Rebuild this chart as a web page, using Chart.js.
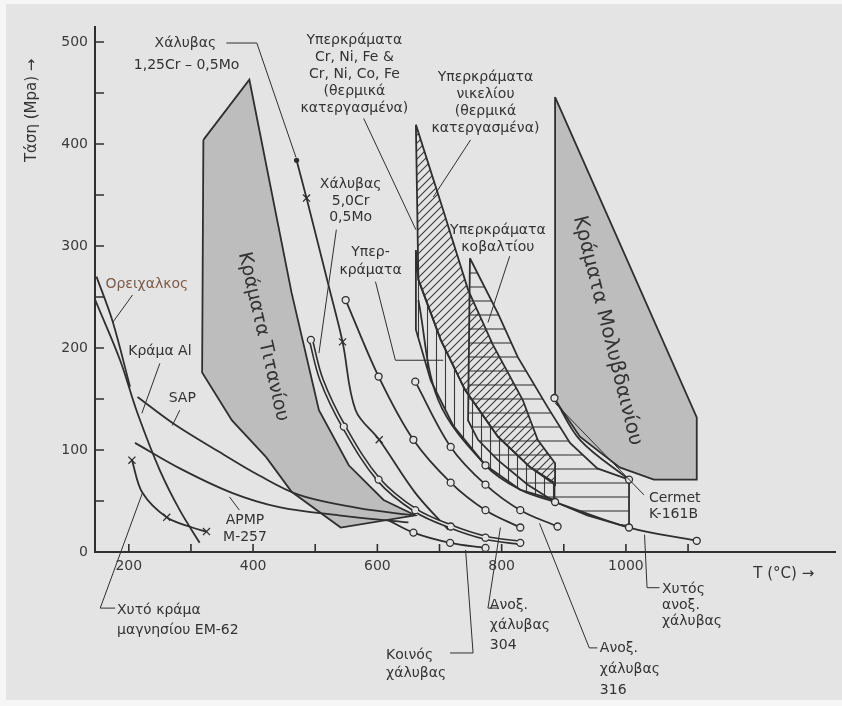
<!DOCTYPE html>
<html>
<head>
<meta charset="utf-8">
<script src="https://cdn.jsdelivr.net/npm/chart.js@4.4.1/dist/chart.umd.min.js"></script>
<style>
    html, body { margin: 0; padding: 0; background: #f6f6f6; }
    #wrap { width: 842px; height: 706px; }
</style>
</head>
<body>
<div id="wrap"><canvas id="c" width="842" height="706"></canvas></div>
<script>
// axes
const xTicks = [200, 300, 400, 500, 600, 700, 800, 900, 1000, 1100];
const xLabels = [200, 400, 600, 800, 1000];
const yTicks = [0, 50, 100, 150, 200, 250, 300, 350, 400, 450, 500];
const yLabels = [0, 100, 200, 300, 400, 500];

// T (°C) / τάση (MPa)
const brassT = [148, 174, 202];
const brassS = [270, 226, 162];
const alT = [146, 186, 214, 250, 282, 314];
const alS = [247, 188, 136, 80, 41, 9];
const sapT = [214, 274, 346, 410, 474, 570, 658];
const sapS = [152, 125, 98, 75, 56, 43, 36];
const apmpT = [210, 282, 366, 442, 538, 650];
const apmpS = [107, 82, 58, 44, 36, 29];
const mgT = [205, 222, 261, 302, 325];
const mgS = [90, 58, 34, 24, 20];
const mgMark = ['x', '', 'x', '', 'x'];

const cr125T = [470, 486, 522, 544, 565, 603, 661, 714];
const cr125S = [384, 347, 260, 206, 139, 110, 58, 22];
const cr125Mark = ['.', 'x', '', 'x', '', 'x', '', ''];
const cr5T = [493, 510, 546, 602, 661, 718, 774, 830];
const cr5S = [208, 169, 123, 71, 41, 25, 14, 9];
const cr5Mark = ['o', '', 'o', 'o', 'o', 'o', 'o', 'o'];
const commonT = [618, 658, 717, 774];
const commonS = [31, 19, 9, 4];
const commonMark = ['', 'o', 'o', 'o'];
const ss304T = [549, 602, 658, 718, 774, 830];
const ss304S = [247, 172, 110, 68, 41, 24];
const ss316T = [661, 718, 774, 830, 890];
const ss316S = [167, 103, 66, 41, 25];
const castT = [666, 698, 774, 830, 886, 1005, 1114];
const castS = [247, 149, 85, 61, 49, 24, 11];
const castMark = ['', '', 'o', '', 'o', 'o', 'o'];
const cermetT = [885, 926, 1005];
const cermetS = [151, 110, 71];
const cermetMark = ['o', '', 'o'];

// regions
const titanT = [320, 394, 462, 506, 554, 610, 661, 541, 462, 421, 366, 318];
const titanS = [404, 463, 254, 139, 85, 51, 36, 24, 59, 93, 129, 176];
const molyT = [886, 886, 926, 990, 1045, 1114, 1114];
const molyS = [446, 149, 113, 83, 71, 71, 132];
const nickelT = [662, 706, 746, 786, 834, 858, 886, 886, 846, 794, 741, 702, 666];
const nickelS = [419, 335, 257, 203, 149, 110, 87, 66, 83, 113, 159, 208, 267];
const crnifeT = [662, 666, 702, 741, 794, 846, 885, 885, 830, 774, 722, 686, 662];
const crnifeS = [296, 267, 208, 159, 113, 83, 68, 51, 61, 85, 124, 168, 218];
const cobaltT = [749, 794, 826, 874, 910, 954, 1005, 1005, 938, 886, 842, 794, 762, 746];
const cobaltS = [288, 234, 191, 142, 107, 82, 71, 24, 36, 49, 66, 90, 110, 129];

const ink = "#2f2f2f";
const paper = "#e4e4e4";
const font = "'DejaVu Sans', sans-serif";

// texts in data units
const notes = [
    { lines: ["Χάλυβας"], x: 291, y: 499 },
    { lines: ["1,25Cr – 0,5Mo"], x: 293, y: 477 },
    { lines: ["Υπερκράματα", "Cr, Ni, Fe &", "Cr, Ni, Co, Fe", "(θερμικά", "κατεργασμένα)"], x: 563, y: 502, lh: 17 },
    { lines: ["Υπερκράματα", "νικελίου", "(θερμικά", "κατεργασμένα)"], x: 774, y: 465, lh: 17 },
    { lines: ["Χάλυβας", "5,0Cr", "0,5Mo"], x: 557, y: 360, lh: 16.5 },
    { lines: ["Υπερ-", "κράματα"], x: 589, y: 294, lh: 18 },
    { lines: ["Υπερκράματα", "κοβαλτίου"], x: 794, y: 315, lh: 17 },
    { lines: ["Ορειχαλκος"], x: 229, y: 262, color: "#7d5a48" },
    { lines: ["Κράμα Al"], x: 250, y: 197 },
    { lines: ["SAP"], x: 286, y: 151 },
    { lines: ["APMP", "M-257"], x: 387, y: 31, lh: 17 },
    { lines: ["Χυτό κράμα", "μαγνησίου ΕΜ-62"], x: 181, y: -57, lh: 20, align: "left" },
    { lines: ["Κοινός", "χάλυβας"], x: 614, y: -101, lh: 18, align: "left" },
    { lines: ["Ανοξ.", "χάλυβας", "304"], x: 781, y: -52, lh: 20, align: "left" },
    { lines: ["Ανοξ.", "χάλυβας", "316"], x: 958, y: -94, lh: 21, align: "left" },
    { lines: ["Χυτός", "ανοξ.", "χάλυβας"], x: 1058, y: -37, lh: 16, align: "left" },
    { lines: ["Cermet", "K-161B"], x: 1037, y: 53, lh: 16, align: "left" },
    { lines: ["T (°C) →"], x: 1205, y: -22, align: "left", size: 15 },
    { lines: ["Τάση (Mpa) →"], x: 45, y: 433, rot: -90, size: 15 },
    { lines: ["Κράματα Τιτανίου"], x: 416, y: 211, rot: 77, size: 19 },
    { lines: ["Κράματα Μολυβδαινίου"], x: 970, y: 217, rot: 76, size: 20 },
];

const leaders = [
    [[357, 499], [406, 499], [469, 387]],
    [[578, 425], [662, 316]],
    [[750, 404], [690, 348]],
    [[534, 316], [506, 195]],
    [[597, 265], [629, 188], [706, 188]],
    [[813, 290], [778, 225]],
    [[206, 252], [174, 225]],
    [[250, 185], [221, 136]],
    [[282, 139], [270, 124]],
    [[378, 41], [362, 54]],
    [[178, -55], [154, -55], [222, 58]],
    [[717, -99], [754, -99], [742, 2]],
    [[798, 24], [778, -55], [794, -55]],
    [[861, 28], [941, -94], [954, -94]],
    [[1030, 17], [1034, -35], [1054, -35]],
    [[886, 146], [1029, 56]],
];

function pts(T, S) {
    return T.map((t, i) => ({ x: t, y: S[i] }));
}

function curve(T, S, marks, extra) {
    marks = marks || [];
    return Object.assign({
        data: pts(T, S),
        borderColor: ink,
        borderWidth: 1.8,
        fill: false,
        tension: 0.35,
        pointStyle: T.map((t, i) => (marks[i] === "x" ? "crossRot" : "circle")),
        pointRadius: T.map((t, i) => (marks[i] === "o" ? 3.5 : marks[i] === "x" ? 5 : marks[i] === "." ? 2 : 0)),
        pointBackgroundColor: T.map((t, i) => (marks[i] === "." ? ink : paper)),
        pointBorderColor: ink,
        pointBorderWidth: 1.3,
        order: 1,
    }, extra || {});
}

function region(T, S, bg, order) {
    return {
        data: pts(T, S).concat([{ x: T[0], y: S[0] }]),
        borderColor: ink,
        borderWidth: 1.8,
        backgroundColor: bg,
        fill: "shape",
        tension: 0,
        pointRadius: 0,
        order: order,
    };
}

function hatch(kind) {
    const n = kind === "h" ? 14 : kind === "v" ? 9 : 8;
    const c = document.createElement("canvas");
    c.width = n;
    c.height = n;
    const g = c.getContext("2d");
    g.strokeStyle = "#3a3a3a";
    g.lineWidth = 1.1;
    g.beginPath();
    if (kind === "h") {
        g.moveTo(0, n / 2); g.lineTo(n, n / 2);
    } else if (kind === "v") {
        g.moveTo(n / 2, 0); g.lineTo(n / 2, n);
    } else {
        g.moveTo(0, n); g.lineTo(n, 0);
        g.moveTo(-2, 2); g.lineTo(2, -2);
        g.moveTo(n - 2, n + 2); g.lineTo(n + 2, n - 2);
    }
    g.stroke();
    return g.createPattern(c, "repeat");
}

const extras = {
    id: "extras",
    beforeDraw(chart) {
        const ctx = chart.ctx;
        ctx.save();
        ctx.fillStyle = paper;
        ctx.fillRect(6, 4, 836, 696);
        ctx.restore();
    },
    afterDraw(chart) {
        const { ctx, scales } = chart;
        const px = (v) => scales.x.getPixelForValue(v);
        const py = (v) => scales.y.getPixelForValue(v);
        ctx.save();
        // inward tick marks
        ctx.strokeStyle = ink;
        ctx.lineWidth = 1.6;
        ctx.beginPath();
        yTicks.forEach((v) => {
            if (v === 0) return;
            ctx.moveTo(scales.x.left, py(v));
            ctx.lineTo(scales.x.left + 9, py(v));
        });
        xTicks.forEach((v) => {
            ctx.moveTo(px(v), scales.y.bottom);
            ctx.lineTo(px(v), scales.y.bottom - 8);
        });
        ctx.stroke();
        // leader lines
        ctx.lineWidth = 1;
        leaders.forEach((l) => {
            ctx.beginPath();
            l.forEach((p, i) => (i ? ctx.lineTo(px(p[0]), py(p[1])) : ctx.moveTo(px(p[0]), py(p[1]))));
            ctx.stroke();
        });
        // texts
        notes.forEach((n) => {
            ctx.save();
            ctx.translate(px(n.x), py(n.y));
            if (n.rot) ctx.rotate((n.rot * Math.PI) / 180);
            ctx.font = (n.size || 14) + "px " + font;
            ctx.fillStyle = n.color || "#333";
            ctx.textAlign = n.align || "center";
            ctx.textBaseline = "middle";
            n.lines.forEach((s, i) => ctx.fillText(s, 0, i * (n.lh || 0)));
            ctx.restore();
        });
        ctx.restore();
    },
};

new Chart(document.getElementById("c"), {
    type: "line",
    data: {
        datasets: [
            curve(brassT, brassS),
            curve(alT, alS),
            curve(sapT, sapS),
            curve(apmpT, apmpS),
            curve(mgT, mgS, mgMark),
            curve(cr125T, cr125S, cr125Mark),
            curve(cr5T, cr5S, [], { borderWidth: 1.6, borderColor: paper, order: 0 }),
            curve(cr5T, cr5S, cr5Mark, { borderWidth: 4.8 }),
            curve(commonT, commonS, commonMark),
            curve(ss304T, ss304S, ["o", "o", "o", "o", "o", "o"]),
            curve(ss316T, ss316S, ["o", "o", "o", "o", "o"]),
            curve(castT, castS, castMark),
            curve(cermetT, cermetS, cermetMark),
            region(titanT, titanS, "#bdbdbd", 4),
            region(molyT, molyS, "#bdbdbd", 4),
            region(nickelT, nickelS, hatch("d"), 3),
            region(crnifeT, crnifeS, hatch("v"), 3),
            region(cobaltT, cobaltS, hatch("h"), 2),
        ],
    },
    options: {
        responsive: false,
        animation: false,
        layout: { padding: { top: 27, right: 2, left: 0, bottom: 0 } },
        plugins: { legend: { display: false }, tooltip: { enabled: false } },
        scales: {
            x: {
                type: "linear",
                min: 145.6,
                max: 1337.6,
                afterBuildTicks: (s) => { s.ticks = xTicks.map((v) => ({ value: v })); },
                afterFit: (s) => { s.height = 154; },
                grid: { display: false, drawTicks: false },
                border: { display: true, color: ink, width: 2 },
                ticks: {
                    autoSkip: false,
                    maxRotation: 0,
                    padding: 6,
                    color: "#3a3a3a",
                    font: { family: font, size: 14 },
                    callback: (v) => (xLabels.includes(v) ? String(v) : ""),
                },
            },
            y: {
                type: "linear",
                min: 0,
                max: 514.7,
                afterBuildTicks: (s) => { s.ticks = yTicks.map((v) => ({ value: v })); },
                afterFit: (s) => { s.width = 95; },
                grid: { display: false, drawTicks: false },
                border: { display: true, color: ink, width: 2 },
                ticks: {
                    autoSkip: false,
                    padding: 7,
                    color: "#3a3a3a",
                    font: { family: font, size: 14 },
                    callback: (v) => (yLabels.includes(v) ? String(v) : ""),
                },
            },
        },
    },
    plugins: [extras],
});
</script>
</body>
</html>
